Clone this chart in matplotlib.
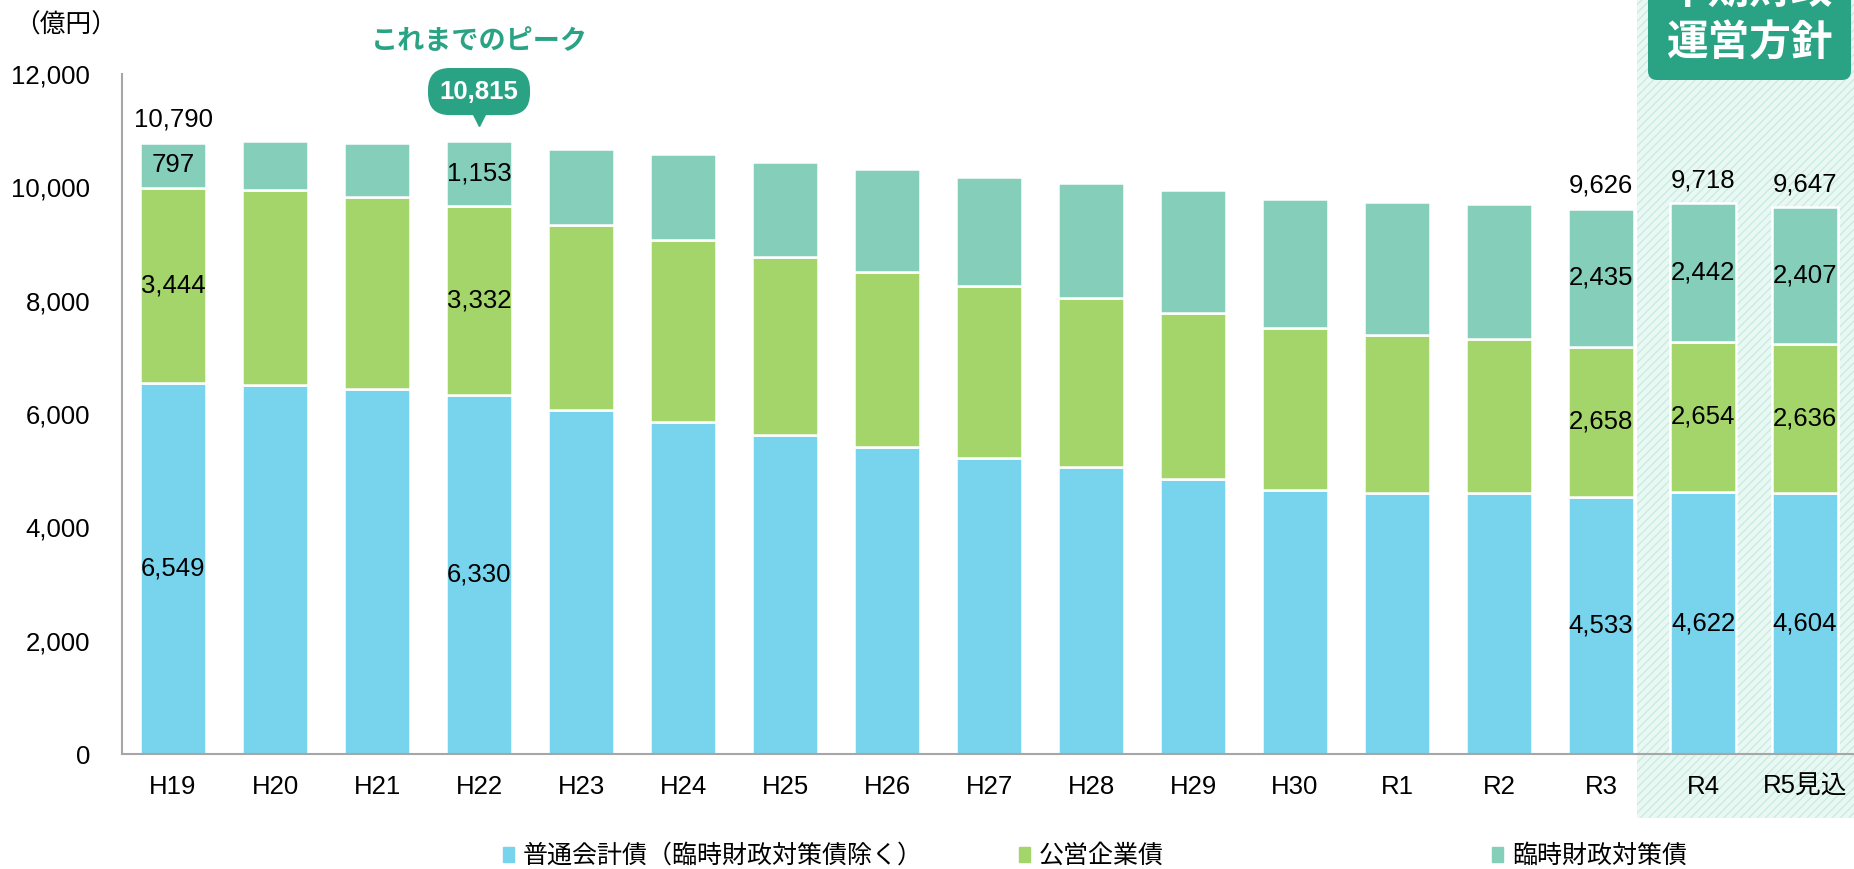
import matplotlib.pyplot as plt
from matplotlib.patches import Patch, Rectangle, FancyBboxPatch

plt.rcParams['font.family'] = ['Liberation Sans', 'Noto Sans CJK JP']
plt.rcParams['hatch.linewidth'] = 1.0

# データ（億円）
NENDO = ['H19', 'H20', 'H21', 'H22', 'H23', 'H24', 'H25', 'H26', 'H27',
         'H28', 'H29', 'H30', 'R1', 'R2', 'R3', 'R4', 'R5見込']
FUTSU = [6549, 6507, 6437, 6330, 6067, 5855, 5626, 5414, 5220,
         5061, 4849, 4661, 4602, 4608, 4533, 4622, 4604]
KOEI = [3444, 3443, 3384, 3332, 3268, 3220, 3149, 3089, 3036,
        2983, 2937, 2860, 2784, 2713, 2658, 2654, 2636]
RINJI = [797, 860, 964, 1153, 1349, 1510, 1675, 1818, 1935,
         2024, 2169, 2276, 2351, 2393, 2435, 2442, 2407]
CON_ETIQUETA = [0, 3, 14, 15, 16]
TOTAL_ARRIBA = [0, 14, 15, 16]
PICO = 3

AZUL, VERDE, TURQ = '#78D3EC', '#A3D56B', '#84CEBA'
VERDE_OSC = '#2AA385'

fig = plt.figure(figsize=(18.54, 8.69), dpi=100)
ax = fig.add_axes([122 / 1854, 1 - 754 / 869, 1 - 122 / 1854, (754 - 74) / 869])
ax.set_facecolor('none')

# zona del plan a medio plazo (fondo rayado)
fig.add_artist(Rectangle((16.37, 0.51), 2.3, 8.3, transform=fig.dpi_scale_trans,
                         facecolor='#E9F8F3', edgecolor='#C9ECE1', hatch='////',
                         linewidth=0, zorder=-1))

x = list(range(len(NENDO)))
base2 = [a + b for a, b in zip(FUTSU, KOEI)]
total = [a + b for a, b in zip(base2, RINJI)]
ancho = 0.647
ax.bar(x, FUTSU, ancho, color=AZUL, edgecolor='white', linewidth=1.8)
ax.bar(x, KOEI, ancho, bottom=FUTSU, color=VERDE, edgecolor='white', linewidth=1.8)
ax.bar(x, RINJI, ancho, bottom=base2, color=TURQ, edgecolor='white', linewidth=1.8)

fs = 18.5
for i in CON_ETIQUETA:
    ax.text(i, FUTSU[i] / 2, f'{FUTSU[i]:,}', ha='center', va='center', fontsize=fs)
    ax.text(i, FUTSU[i] + KOEI[i] / 2, f'{KOEI[i]:,}', ha='center', va='center', fontsize=fs)
    ax.text(i, base2[i] + RINJI[i] / 2, f'{RINJI[i]:,}', ha='center', va='center', fontsize=fs)
for i in TOTAL_ARRIBA:
    ax.annotate(f'{total[i]:,}', (i, total[i]), xytext=(0, 8), textcoords='offset points',
                ha='center', va='bottom', fontsize=fs)

# globo de la cifra máxima
ax.text(PICO, 11690, f'{total[PICO]:,}', ha='center', va='center', fontsize=fs,
        color='white', fontweight='bold', clip_on=False,
        bbox=dict(boxstyle='round,pad=0.45,rounding_size=0.85', fc=VERDE_OSC, ec='none'))
ax.plot([PICO], [11230], marker='v', markersize=11, color=VERDE_OSC, clip_on=False)
ax.text(PICO, 12560, 'これまでのピーク', ha='center', va='center', fontsize=19.5,
        color=VERDE_OSC, fontweight='bold', clip_on=False)

ax.set_xlim(-0.5, 16.48)
ax.set_ylim(0, 12000)
ax.set_yticks(range(0, 12001, 2000))
ax.set_yticklabels([f'{v:,}' for v in range(0, 12001, 2000)], fontsize=fs)
ax.set_xticks(x)
ax.set_xticklabels(NENDO, fontsize=fs)
ax.tick_params(axis='y', length=0, pad=23)
ax.tick_params(axis='x', length=0, pad=15)
for s in ['top', 'right']:
    ax.spines[s].set_visible(False)
for s in ['left', 'bottom']:
    ax.spines[s].set_color('#A6A6A6')
    ax.spines[s].set_linewidth(1.5)

fig.text(66 / 1854, 1 - 25 / 869, '（億円）', ha='center', va='center', fontsize=18.5)

# recuadro "中期財政運営方針"
fig.add_artist(FancyBboxPatch((16.48, 7.89), 2.03, 1.4, transform=fig.dpi_scale_trans,
                              boxstyle='round,pad=0,rounding_size=0.09',
                              facecolor=VERDE_OSC, edgecolor='none', zorder=2))
fig.text(1750 / 1854, 1 + 8 / 869, '中期財政', ha='center', va='center', fontsize=30,
         color='white', fontweight='bold', zorder=3)
fig.text(1750 / 1854, 1 - 45 / 869, '運営方針', ha='center', va='center', fontsize=30,
         color='white', fontweight='bold', zorder=3)

# leyenda (tres bloques separados)
leyenda = [('普通会計債（臨時財政対策債除く）', AZUL, 503),
           ('公営企業債', VERDE, 1019),
           ('臨時財政対策債', TURQ, 1492)]
for nombre, col, px in leyenda:
    lg = fig.legend(handles=[Patch(color=col, label=nombre)], loc='center left',
                    bbox_to_anchor=(px / 1854, 1 - 856 / 869), frameon=False,
                    fontsize=18, handlelength=0.45, handleheight=0.55,
                    handletextpad=0.35, borderaxespad=0, borderpad=0)

plt.savefig('out.png', dpi=100)
